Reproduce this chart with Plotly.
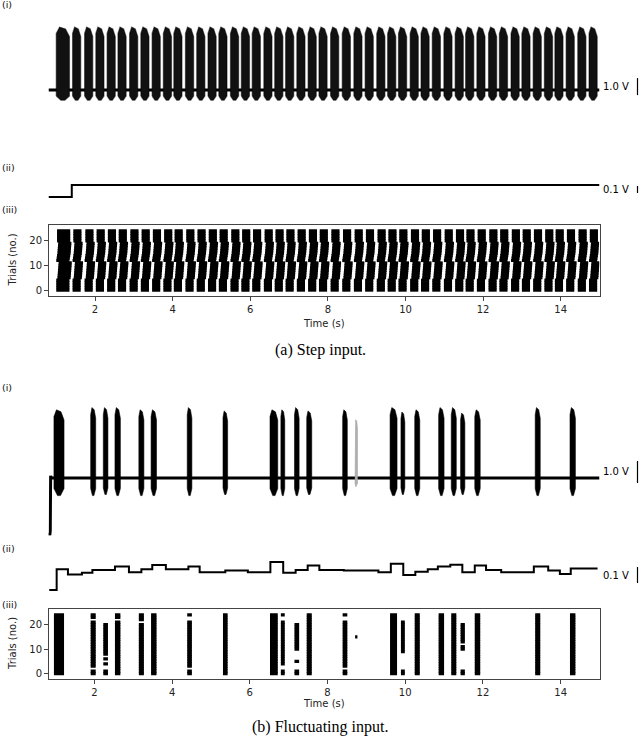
import plotly.graph_objects as go

W, H = 640, 742

# ---------------- (a) step input ----------------
# burst onsets (s) and durations (s) in trace (i)
step_burst_start = [1.00, 1.42, 1.73, 2.02, 2.31, 2.59, 2.89, 3.18, 3.47, 3.76, 4.03, 4.33,
                    4.62, 4.91, 5.19, 5.49, 5.77, 6.05, 6.35, 6.63, 6.91, 7.20, 7.49, 7.77,
                    8.07, 8.37, 8.67, 8.96, 9.26, 9.54, 9.82, 10.12, 10.40, 10.69, 10.99, 11.28,
                    11.55, 11.84, 12.14, 12.42, 12.72, 13.00, 13.29, 13.58, 13.85, 14.14, 14.44, 14.73]
step_burst_dur = [0.34] + [0.21] * 47
step_peak_v = 3.7
step_trough_v = -0.6
step_trace_t = [0.80, 15.0]
step_trace_v = [0.0, 0.0]

# input trace (ii)
step_in_t = [0.80, 1.40, 15.0]
step_in_v = [-0.17, 0.0, 0.0]

# raster (iii): timing shift of each trial (s), trials 0..24
step_trial_shift = [0.00, 0.00, 0.00, 0.00, 0.00, 0.03, 0.035, 0.04, 0.045, 0.05, 0.055, 0.06, 0.00,
                    0.01, 0.02, 0.03, 0.035, 0.04, 0.045, 0.05, 0.02, 0.02, 0.02, 0.02, 0.02]

# ---------------- (b) fluctuating input ----------------
fluct_burst_t = [1.09, 1.97, 2.29, 2.60, 3.21, 3.53, 4.45, 5.37, 6.62, 6.85, 7.21, 7.53,
                 8.45, 8.74, 9.70, 9.94, 10.31, 10.93, 11.25, 11.48, 11.86, 13.41, 14.31]
fluct_burst_w = [0.26, 0.13, 0.12, 0.14, 0.13, 0.14, 0.12, 0.12, 0.20, 0.10, 0.12, 0.13,
                 0.12, 0.06, 0.18, 0.10, 0.13, 0.14, 0.13, 0.11, 0.14, 0.13, 0.14]
fluct_peak_v = [3.1, 3.2, 3.2, 3.2, 3.1, 3.1, 3.2, 3.05, 3.1, 3.1, 3.2, 3.05,
                3.1, 2.65, 3.2, 3.0, 3.1, 3.2, 3.2, 2.95, 3.1, 3.2, 3.2]
fluct_trough_v = [-0.8, -0.8, -0.75, -0.8, -0.8, -0.8, -0.8, -0.75, -0.8, -0.8, -0.8, -0.75,
                  -0.8, -0.4, -0.8, -0.75, -0.8, -0.8, -0.8, -0.75, -0.8, -0.8, -0.8]
fluct_faded = [8.74]
fluct_trace_t = [0.84, 0.855, 0.865, 0.875, 0.89, 15.0]
fluct_trace_v = [-2.5, -2.6, -2.4, 0.1, 0.0, 0.0]

fluct_in_t = [0.84, 1.03, 1.32, 1.68, 1.95, 2.53, 2.89, 3.21, 3.49, 3.84, 4.42, 4.71, 5.37,
              5.95, 6.53, 6.86, 7.18, 7.49, 7.79, 8.42, 9.31, 9.63, 9.95, 10.26, 10.58, 10.84,
              11.16, 11.47, 11.79, 12.08, 12.47, 13.31, 13.68, 13.98, 14.26, 14.95]
fluct_in_v = [-0.112, 0.017, -0.015, -0.004, 0.013, 0.034, -0.002, 0.017, 0.043, 0.017, 0.034,
              -0.002, 0.009, -0.002, 0.062, -0.004, 0.013, 0.041, 0.013, 0.009, -0.002, 0.052,
              -0.019, 0.002, 0.017, 0.034, 0.045, -0.002, 0.041, 0.013, -0.002, 0.034, 0.009,
              -0.012, 0.022, 0.022]

# trials with spikes for every burst, as inclusive ranges
fluct_trials = [
    [(0, 24)], [(0, 1), (3, 21), (23, 24)], [(0, 1), (4, 4), (6, 6), (8, 20)],
    [(0, 21), (23, 24)], [(0, 20), (22, 24)], [(0, 24)], [(0, 1), (3, 21), (24, 24)],
    [(0, 24)], [(0, 24)], [(0, 1), (4, 21), (24, 24)], [(0, 1), (5, 5), (10, 20)],
    [(0, 24)], [(0, 1), (3, 21), (24, 24)], [(15, 15)], [(0, 24)], [(0, 1), (9, 21)],
    [(0, 24)], [(0, 24)], [(0, 24)], [(0, 1), (10, 11), (13, 20)], [(0, 24)],
    [(0, 24)], [(0, 24)],
]

xticks = [2, 4, 6, 8, 10, 12, 14]
yticks = [0, 10, 20]


def py(p):
    return 1 - p / H


def burst_polys(centres, widths, peaks, troughs):
    xs, ys = [], []
    for c, w, pk, tr in zip(centres, widths, peaks, troughs):
        l, r = c - w / 2, c + w / 2
        xs += [l, l, l + 0.25 * w, c + 0.2 * w, r, r, c + 0.15 * w, c - 0.15 * w, l, None]
        ys += [0.6 * tr, 0.9 * pk, pk, 0.97 * pk, 0.85 * pk, 0.6 * tr, tr, tr, 0.6 * tr, None]
    return xs, ys


fig = go.Figure()

# ---- (a)(i)
sc = [s + d / 2 for s, d in zip(step_burst_start, step_burst_dur)]
bx, by = burst_polys(sc, step_burst_dur, [step_peak_v] * len(sc), [step_trough_v] * len(sc))
fig.add_trace(go.Scatter(x=step_trace_t, y=step_trace_v, mode="lines",
                         line=dict(color="black", width=3), xaxis="x", yaxis="y"))
fig.add_trace(go.Scatter(x=bx, y=by, mode="lines", fill="toself", fillcolor="#111",
                         line=dict(color="rgba(0,0,0,0.5)", width=1.2), xaxis="x", yaxis="y"))

# ---- (a)(ii)
fig.add_trace(go.Scatter(x=step_in_t, y=step_in_v, mode="lines", line_shape="hv",
                         line=dict(color="black", width=2), xaxis="x2", yaxis="y2"))

# ---- (a)(iii)
rx, ry = [], []
for s, d in zip(step_burst_start, step_burst_dur):
    for j, sh in enumerate(step_trial_shift):
        rx += [s + sh, s + d + sh, None]
        ry += [j, j, None]
fig.add_trace(go.Scatter(x=rx, y=ry, mode="lines", line=dict(color="black", width=3.2),
                         xaxis="x3", yaxis="y3"))

# ---- (b)(i)
keep = [i for i, t in enumerate(fluct_burst_t) if t not in fluct_faded]
fade = [i for i, t in enumerate(fluct_burst_t) if t in fluct_faded]
fig.add_trace(go.Scatter(x=fluct_trace_t, y=fluct_trace_v, mode="lines",
                         line=dict(color="black", width=3), xaxis="x4", yaxis="y4"))
for idx, col, edge in [(fade, "#b0b0b0", "rgba(160,160,160,0.6)"), (keep, "black", "rgba(0,0,0,0.55)")]:
    bx, by = burst_polys([fluct_burst_t[i] for i in idx], [fluct_burst_w[i] for i in idx],
                         [fluct_peak_v[i] for i in idx], [fluct_trough_v[i] for i in idx])
    fig.add_trace(go.Scatter(x=bx, y=by, mode="lines", fill="toself", fillcolor=col,
                             line=dict(color=edge, width=1), xaxis="x4", yaxis="y4"))

# ---- (b)(ii)
fig.add_trace(go.Scatter(x=fluct_in_t, y=fluct_in_v, mode="lines", line_shape="hv",
                         line=dict(color="black", width=2), xaxis="x5", yaxis="y5"))

# ---- (b)(iii)
rx, ry = [], []
for c, w, rngs in zip(fluct_burst_t, fluct_burst_w, fluct_trials):
    for a, b in rngs:
        for j in range(a, b + 1):
            rx += [c - w / 2, c + w / 2, None]
            ry += [j, j, None]
fig.add_trace(go.Scatter(x=rx, y=ry, mode="lines", line=dict(color="black", width=3.2),
                         xaxis="x6", yaxis="y6"))

xdom = [48.5 / W, 599.5 / W]
hidden = dict(visible=False, fixedrange=True)
tickfont = dict(family="DejaVu Sans", size=10, color="#222")
box = dict(showline=True, mirror=True, linecolor="#444", linewidth=1, ticks="outside",
           ticklen=3.5, tickcolor="#444", tickfont=tickfont, showgrid=False, zeroline=False)

layout = dict(
    width=W, height=H, margin=dict(l=0, r=0, t=0, b=0), showlegend=False,
    paper_bgcolor="white", plot_bgcolor="white",
    xaxis=dict(domain=xdom, range=[0.8, 15.0], anchor="y", **hidden),
    yaxis=dict(domain=[py(110), py(15)], range=[-(110 - 90) / 17, (90 - 15) / 17], anchor="x", **hidden),
    xaxis2=dict(domain=xdom, range=[0.8, 15.0], anchor="y2", **hidden),
    yaxis2=dict(domain=[py(205), py(175)], range=[-(205 - 185) / 70, (185 - 175) / 70], anchor="x2", **hidden),
    xaxis3=dict(domain=xdom, range=[0.8, 15.0], tickvals=xticks, anchor="y3", **box),
    yaxis3=dict(domain=[py(296), py(225)], range=[-2.4, 26.4], tickvals=yticks, anchor="x3", **box),
    xaxis4=dict(domain=xdom, range=[0.82, 15.0], anchor="y4", **hidden),
    yaxis4=dict(domain=[py(540), py(400)], range=[-(540 - 478) / 22, (478 - 400) / 22], anchor="x4", **hidden),
    xaxis5=dict(domain=xdom, range=[0.82, 15.0], anchor="y5", **hidden),
    yaxis5=dict(domain=[py(595), py(555)], range=[-(595 - 572) / 160, (572 - 555) / 160], anchor="x5", **hidden),
    xaxis6=dict(domain=xdom, range=[0.82, 15.0], tickvals=xticks, anchor="y6", **box),
    yaxis6=dict(domain=[py(679), py(609)], range=[-2.2, 26.4], tickvals=yticks, anchor="x6", **box),
)
fig.update_layout(**layout)

# scale bars (length = value of the label)
bars = [("y", -0.3, 1.0, "1.0 V"), ("y2", -0.114, 0.1, "0.1 V"),
        ("y4", -0.227, 1.0, "1.0 V"), ("y5", -0.069, 0.1, "0.1 V")]
for yref, y0, length, label in bars:
    fig.add_shape(type="line", xref="paper", yref=yref, x0=637.5 / W, x1=637.5 / W,
                  y0=y0, y1=y0 + length, line=dict(color="black", width=1.2))
    fig.add_annotation(xref="paper", yref=yref, x=631 / W, y=y0 + length / 2, text=label,
                       showarrow=False, xanchor="right", yanchor="middle",
                       font=dict(family="DejaVu Sans", size=10, color="black"))

txt = dict(family="DejaVu Sans", size=9.5, color="#111")
for label, ypx in [("(i)", 5), ("(ii)", 168), ("(iii)", 209), ("(i)", 387), ("(ii)", 548), ("(iii)", 604)]:
    fig.add_annotation(xref="paper", yref="paper", x=0, y=py(ypx), text=label, showarrow=False,
                       xanchor="left", yanchor="middle", font=txt)

for ycen, ytime, ycap, cap in [(260.5, 323, 350, "(a) Step input."), (644, 703, 727, "(b) Fluctuating input.")]:
    fig.add_annotation(xref="paper", yref="paper", x=12 / W, y=py(ycen), text="Trials (no.)",
                       textangle=-90, showarrow=False, xanchor="center", yanchor="middle",
                       font=dict(family="DejaVu Sans", size=10, color="#222"))
    fig.add_annotation(xref="paper", yref="paper", x=324 / W, y=py(ytime), text="Time (s)",
                       showarrow=False, xanchor="center", yanchor="middle",
                       font=dict(family="DejaVu Sans", size=10, color="#222"))
    fig.add_annotation(xref="paper", yref="paper", x=320 / W, y=py(ycap), text=cap,
                       showarrow=False, xanchor="center", yanchor="middle",
                       font=dict(family="Liberation Serif", size=16, color="black"))

fig.write_html("out.html", config={"displayModeBar": False},
               post_script="document.body.style.margin='0px';")
